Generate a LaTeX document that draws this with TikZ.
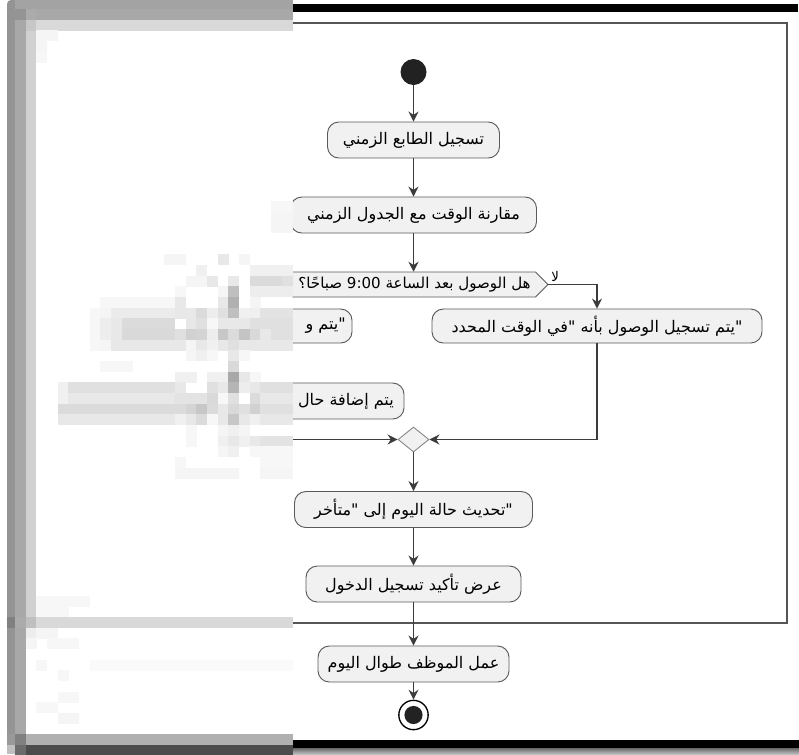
\documentclass[tikz,border=0pt]{standalone}
\usepackage{fontspec}
\usepackage{tikz}
\usetikzlibrary{arrows.meta,shapes.geometric,calc}
\TeXXeTstate=1
\newfontfamily\arfont[Script=Arabic]{DejaVu Sans}
\definecolor{boxfill}{HTML}{F1F1F1}
\definecolor{boxline}{HTML}{5A5A5A}
\definecolor{flowc}{HTML}{3C3C3C}
\definecolor{framec}{HTML}{555555}
\definecolor{dotc}{HTML}{222222}

\begin{document}
\begin{tikzpicture}[x=0.75pt,y=-0.75pt,
  act/.style={draw=boxline, fill=boxfill, rounded corners=8.5pt, line width=0.7pt,
    minimum height=27pt, inner sep=0pt, font=\arfont\fontsize{12}{14}\selectfont},
  txt/.style={inner sep=0pt, font=\arfont\fontsize{12}{14}\selectfont},
  lbl/.style={inner sep=0pt, font=\arfont\fontsize{10}{12}\selectfont},
  decision/.style={draw=boxline, fill=boxfill, line width=0.7pt},
  flow/.style={draw=flowc, line width=0.9pt, -{Stealth[length=7.5pt,width=7.5pt,inset=2.5pt]}},
  mergenode/.style={diamond, draw=boxline!70, fill=boxfill, line width=0.7pt,
    minimum width=23.25pt, minimum height=18.75pt, inner sep=0pt},
  startdot/.style={circle, fill=dotc, minimum size=19.5pt, inner sep=0pt},
  enddot/.style={circle, draw=black, fill=white, line width=1pt, minimum size=22pt, inner sep=0pt},
]
\useasboundingbox (0,0) rectangle (799,754);
\fill[white] (0,0) rectangle (799,754);

% top and bottom bars
\fill[black] (292,4) rectangle (798,12);
\fill[black] (292,740) rectangle (799,748);
\shade[top color=black!60, bottom color=black!25] (292,748) rectangle (799,754);

% partition frame
\draw[framec, line width=1.6pt] (30,23) rectangle (787,623);

% activity nodes
\node[startdot] (start) at (413.5,72) {};
\node[act, minimum width=129pt] (stamp) at (413.5,140) {\beginR تسجيل الطابع الزمني\endR};
\node[act, minimum width=184.5pt] (compare) at (413.5,215) {\beginR مقارنة الوقت مع الجدول الزمني\endR};

% decision hexagon
\filldraw[decision] (290.5,272) -- (535.5,272) -- (548,284.5) coordinate (qE)
  -- (535.5,297) -- (290.5,297) -- (278,284.5) coordinate (qW) -- cycle;
\node[txt, minimum height=18.75pt, font=\arfont\fontsize{11.3}{13}\selectfont] (q) at (414.5,284.5)
  {\beginR هل الوصول بعد الساعة 9:00 صباحًا؟\endR};
\node[lbl, anchor=south west] (no) at (551,282) {\beginR لا\endR};

% branches
\node[act, minimum width=247.5pt, minimum height=25.5pt] (ontime) at (597,326)
  {\beginR "\kern0pt يتم تسجيل الوصول بأنه "\kern0pt في الوقت المحدد\endR};
\node[act, minimum width=180pt, minimum height=25.5pt] (late1) at (232,326) {};
\node[txt, anchor=east] (late1t) at (346,326) {\beginR "\kern0pt يتم و\endR};
\node[act, minimum width=258pt] (late2) at (232,401) {};
\node[txt, anchor=east] (late2t) at (394,401) {\beginR يتم إضافة حال\endR};

\node[mergenode] (merge) at (413.5,439.5) {};

\node[act, minimum width=178.5pt] (update) at (413.5,509.5)
  {\beginR "\kern0pt تحديث حالة اليوم إلى "\kern0pt متأخر\endR};
\node[act, minimum width=161.25pt] (confirm) at (413.5,584) {\beginR عرض تأكيد تسجيل الدخول\endR};
\node[act, minimum width=143.25pt] (work) at (413.5,664) {\beginR عمل الموظف طوال اليوم\endR};

\node[enddot] (end) at (413.5,715) {};
\fill[dotc] (end.center) circle (6.8pt);

% connectors
\draw[flow] (start) -- (stamp);
\draw[flow] (stamp) -- (compare);
\draw[flow] (compare) -- (compare |- q.north);
\draw[flow] (qE) -| (ontime);
\draw[flow] (qW) -| (late1);
\draw[flow] (late1) -- (late2);
\draw[flow] (late2) |- (merge);
\draw[flow] (ontime) |- (merge);
\draw[flow] (merge) -- (update);
\draw[flow] (update) -- (confirm);
\draw[flow] (confirm) -- (work);
\draw[flow] (work) -- (end);

% pixelated strip over the left side
\fill[white] (0,0) rectangle (292.4,754);
\fill[black!42] (7,745) [rounded corners=3pt] -- (7,0) [sharp corners] -- (15,0) -- (15,745) -- cycle;
\fill[black!25] (7,745) rectangle (15,754);
\fill[black!50] (7,617) rectangle (15,627.7);
\fill[black!40] (7,734.3) rectangle (15,745);
\fill[black!34] (15,19.67) rectangle (25.67,734.3);
\fill[black!18] (25.67,30.33) rectangle (36.33,617);
\foreach \r/\ca/\cb/\g in {
  -1/1/26/36, 0/1/1/42, 0/2/2/33, 0/3/26/34, 1/1/1/34, 1/2/2/22, 1/3/26/15,
  2/3/4/4, 3/3/3/4, 4/3/3/3,
  18/25/26/3, 19/25/26/4, 20/25/26/4,
  23/15/16/4, 23/20/20/9, 23/22/22/4,
  24/18/18/6, 24/23/26/6,
  25/17/18/4, 25/19/19/9, 25/21/21/9, 25/23/25/14, 25/26/26/12,
  26/16/16/3, 26/20/20/4, 26/21/21/25, 26/23/26/7,
  27/9/15/3, 27/16/16/9, 27/20/20/9, 27/21/21/31, 27/23/23/4,
  28/8/8/3, 28/9/9/4, 28/10/15/8, 28/16/17/9, 28/18/18/14, 28/19/19/7, 28/20/20/12,
  28/21/21/25, 28/22/23/6, 28/24/26/11,
  29/8/8/3, 29/9/9/7, 29/10/10/9, 29/11/15/14, 29/17/17/9, 29/18/18/12, 29/19/19/3,
  29/20/22/9, 29/23/26/12,
  30/8/8/3, 30/9/9/7, 30/10/10/9, 30/11/15/15, 30/16/16/12, 30/17/17/18, 30/18/18/17,
  30/19/19/7, 30/20/20/22, 30/21/21/14, 30/22/22/23, 30/23/23/15, 30/24/24/9, 30/25/26/12,
  31/8/8/3, 31/9/9/4, 31/10/16/9, 31/17/17/4, 31/18/18/9, 31/19/19/6, 31/20/20/9,
  31/21/21/12, 31/22/26/9,
  32/17/17/4, 32/18/18/6, 32/19/19/3, 32/21/21/9, 32/22/22/3,
  33/9/11/3, 33/21/21/15,
  34/16/17/6, 34/19/20/6, 34/21/21/34, 34/22/22/9, 34/23/23/3,
  35/5/5/6, 35/6/15/12, 35/16/16/9, 35/19/19/12, 35/20/20/9, 35/21/21/29, 35/22/22/7,
  35/23/23/9, 35/24/26/12,
  36/5/5/6, 36/6/15/9, 36/16/18/11, 36/19/19/15, 36/20/20/3, 36/21/21/12, 36/23/23/14,
  36/24/26/9,
  37/5/16/14, 37/17/17/17, 37/18/18/22, 37/19/19/14, 37/20/20/9, 37/21/21/15, 37/22/22/12,
  37/23/23/18, 37/24/26/12,
  38/5/15/9, 38/16/16/6, 38/17/17/9, 38/18/18/14, 38/19/19/3, 38/20/20/9, 38/21/21/22,
  38/22/22/9, 38/23/23/6, 38/24/26/9,
  39/17/17/3, 39/20/20/4, 39/21/21/6, 39/22/22/4,
  40/17/17/3, 40/20/20/6, 40/21/21/9, 40/22/22/6, 40/23/23/9, 40/24/26/11,
  41/20/20/4, 41/21/21/6, 41/23/26/3,
  42/16/16/3, 42/24/26/3,
  43/16/21/4, 43/24/26/4,
  55/3/7/3, 56/3/5/3,
  57/1/1/33, 57/2/2/25, 57/3/26/15,
  58/2/2/7, 58/3/4/4, 59/2/2/4, 59/4/6/3, 61/3/3/3, 61/8/26/2, 62/5/5/3,
  64/5/6/3, 65/3/4/3, 66/5/6/4,
  68/1/1/50, 68/2/26/31, 69/1/1/58, 69/2/26/70}
  \fill[black!\g] ({4.333+10.667*\ca},{9+10.667*\r})
    rectangle ({4.333+10.667*(\cb+1)+0.2},{9+10.667*(\r+1)+0.2});
\end{tikzpicture}
\end{document}
